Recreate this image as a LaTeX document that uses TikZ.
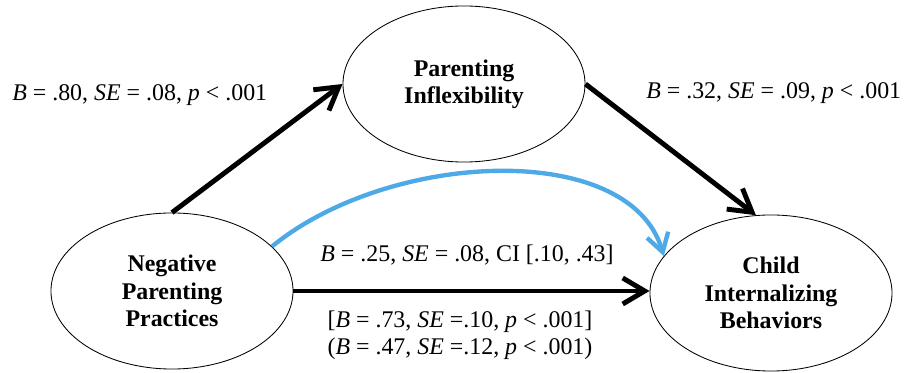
\documentclass[tikz,border=0pt]{standalone}
\usepackage{fontspec}
\setmainfont{Liberation Serif}
\usetikzlibrary{positioning, shapes.geometric, arrows.meta}
\definecolor{ink}{HTML}{000000}
\definecolor{sky}{HTML}{4EAAE6}

\begin{document}
\begin{tikzpicture}[x=0.025cm, y=-0.025cm,
  font=\fontsize{17}{19.5}\selectfont,
  var/.style={draw=ink, ellipse, line width=0.6pt, minimum width=6.05cm, minimum height=3.9cm, inner sep=0pt, align=center, font=\fontsize{17}{19.5}\selectfont\bfseries},
  arr/.style={-{Straight Barb[length=5.5mm, width=6.5mm]}, line width=3.5pt, ink},
  ind/.style={-{Straight Barb[length=4.5mm, width=5.5mm]}, line width=3.1pt, sky},
  lab/.style={inner sep=0pt, align=center}
]
  \useasboundingbox (0,0) rectangle (904,373);

  \node[var] (pi) at (464,84) {Parenting\\Inflexibility};
  \node[var] (np) at (172,291) {Negative\\Parenting\\Practices};
  \node[var] (ci) at (771,293) {Child\\Internalizing\\Behaviors};

  \draw[arr] (np.north) -- (pi.west);
  \draw[arr] (pi.east) -- (ci.101);
  \draw[arr] (np.east) -- (np.east -| ci.west);
  \draw[ind] (np.24) .. controls (390,150) and (630,140) .. (ci.161);

  \node[lab, anchor=west] (la) at (12,95) {\textit{B} = .80, \textit{SE} = .08, \textit{p} < .001};
  \node[lab, anchor=west] (lb) at (646,93) {\textit{B} = .32, \textit{SE} = .09, \textit{p} < .001};
  \node[lab] (lc) at (467,255) {\textit{B} = .25, \textit{SE} = .08, CI [.10, .43]};
  \node[lab] (ld) at (460,335) {[\textit{B} = .73, \textit{SE} =.10, \textit{p} < .001]\\(\textit{B} = .47, \textit{SE} =.12, \textit{p} < .001)};
\end{tikzpicture}
\end{document}
